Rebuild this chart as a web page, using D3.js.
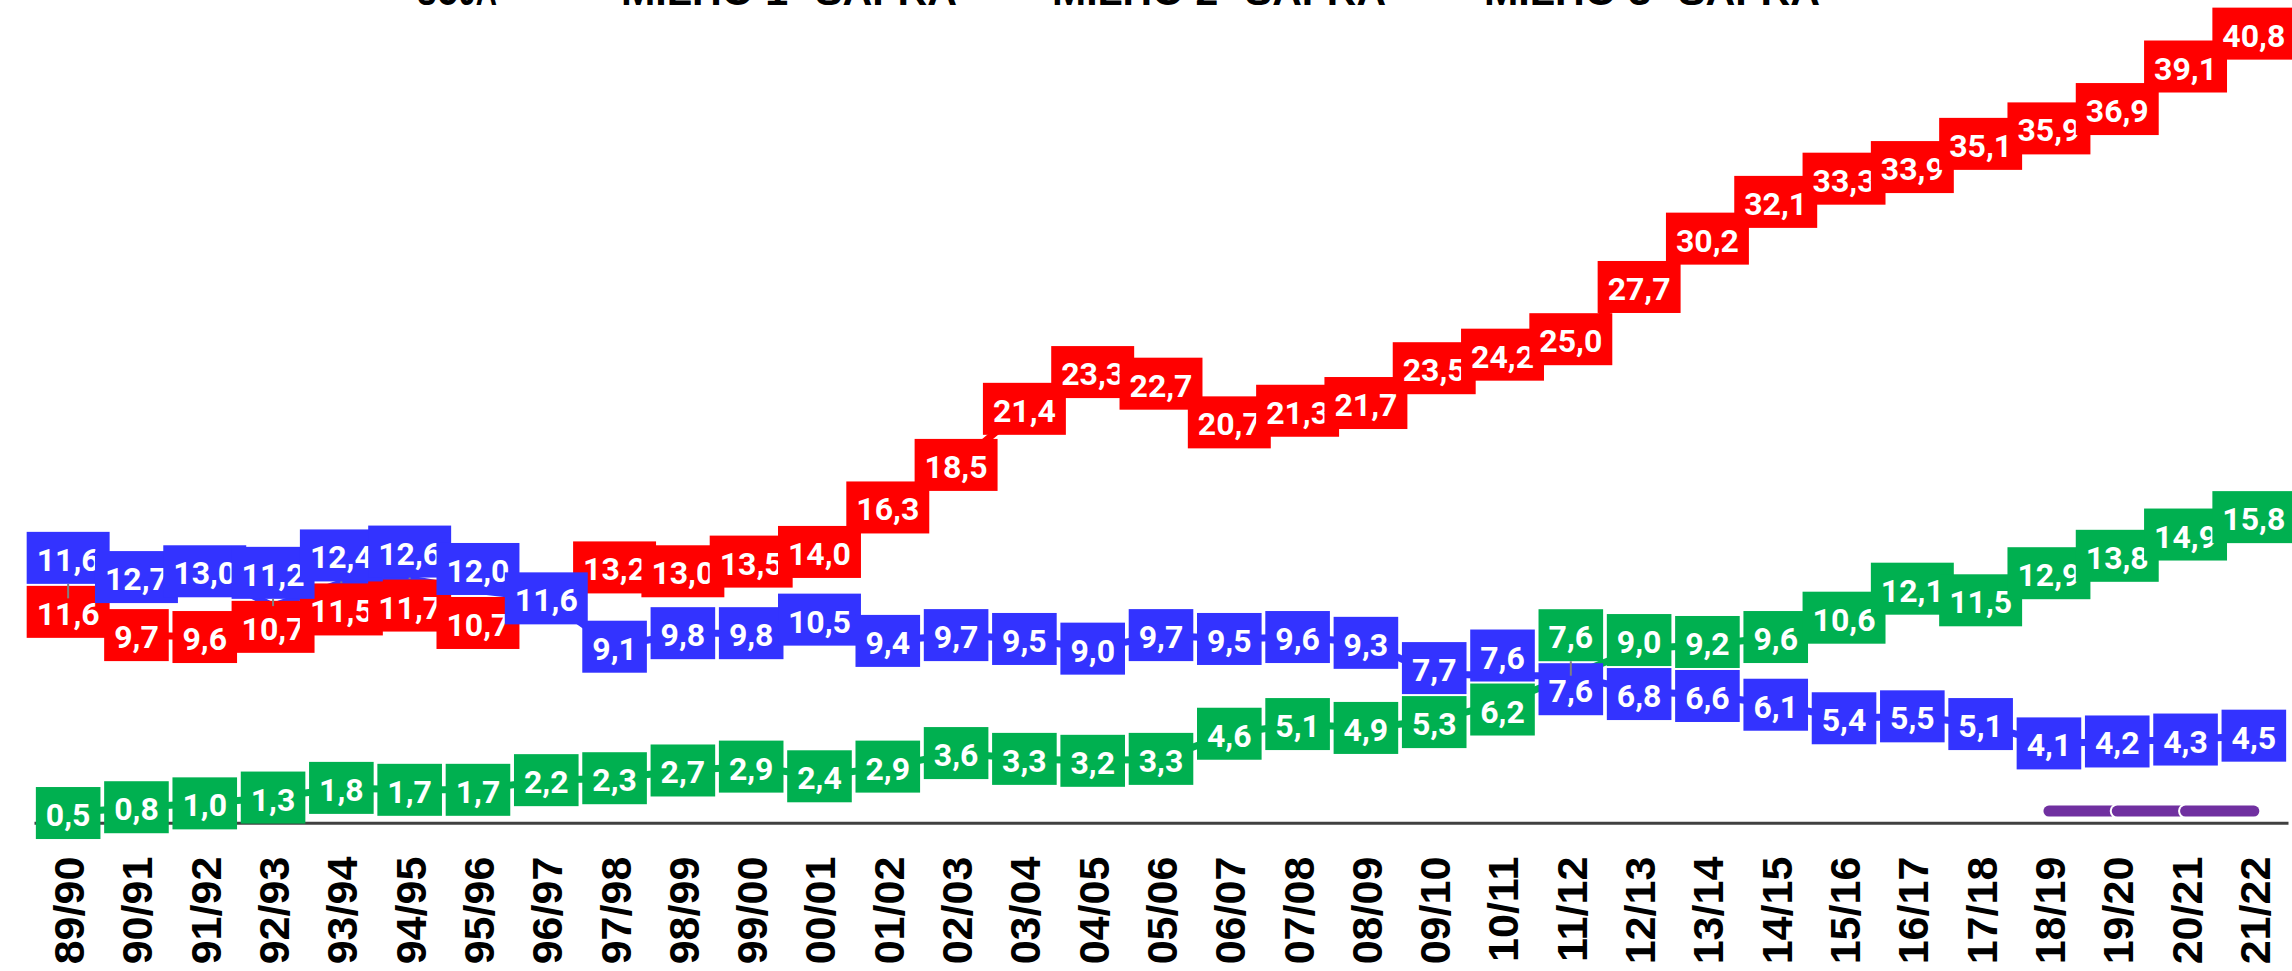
<!DOCTYPE html>
<html><head><meta charset="utf-8">
<script src="https://cdn.jsdelivr.net/npm/d3@7"></script>
<style>html,body{margin:0;padding:0;background:#fff;overflow:hidden}</style>
</head><body><svg id="c" width="2292" height="971"></svg>
<script>
const categories = ["89/90","90/91","91/92","92/93","93/94","94/95","95/96","96/97","97/98","98/99","99/00","00/01","01/02","02/03","03/04","04/05","05/06","06/07","07/08","08/09","09/10","10/11","11/12","12/13","13/14","14/15","15/16","16/17","17/18","18/19","19/20","20/21","21/22"];
const soja   = [11.6,9.7,9.6,10.7,11.5,11.7,10.7,null,13.2,13.0,13.5,14.0,16.3,18.5,21.4,23.3,22.7,20.7,21.3,21.7,23.5,24.2,25.0,27.7,30.2,32.1,33.3,33.9,35.1,35.9,36.9,39.1,40.8];
const milho1 = [11.6,12.7,13.0,11.2,12.4,12.6,12.0,11.6,9.1,9.8,9.8,10.5,9.4,9.7,9.5,9.0,9.7,9.5,9.6,9.3,7.7,7.6,7.6,6.8,6.6,6.1,5.4,5.5,5.1,4.1,4.2,4.3,4.5];
const milho2 = [0.5,0.8,1.0,1.3,1.8,1.7,1.7,2.2,2.3,2.7,2.9,2.4,2.9,3.6,3.3,3.2,3.3,4.6,5.1,4.9,5.3,6.2,7.6,9.0,9.2,9.6,10.6,12.1,11.5,12.9,13.8,14.9,15.8];
const milho3 = [null,null,null,null,null,null,null,null,null,null,null,null,null,null,null,null,null,null,null,null,null,null,null,null,null,null,null,null,null,0.6,0.6,0.6,0.6];
const seriesNames = ["SOJA","MILHO 1ª SAFRA","MILHO 2ª SAFRA","MILHO 3ª SAFRA"];
const colors = ["#FF0000","#3333FF","#00B050","#7030A0"];

const svg = d3.select("#c");
const x = d3.scalePoint().domain(categories).range([34, 2288]).padding(0.5);
const y = d3.scaleLinear().domain([0, 40]).range([822.7, 49.1]);
const fmt = v => d3.format(".1f")(v).replace(".", ",");

// legend (mostly cropped at top edge, as in the reference)
const legX = [417, 621, 1052, 1484], legW = [80, 336, 334, 336];
const leg = svg.append("g");
seriesNames.forEach((n, k) => {
  leg.append("text").attr("x", legX[k]).attr("y", 5)
    .attr("font-family", "'Liberation Sans Narrow', 'Liberation Sans', sans-serif")
    .attr("font-weight", "bold").attr("font-size", 40).attr("fill", "#000")
    .attr("textLength", legW[k]).attr("lengthAdjust", "spacingAndGlyphs").text(n);
});

// axis
const axis = d3.axisBottom(x).tickSize(0).tickSizeOuter(0);
const ag = svg.append("g").attr("transform", "translate(0,822.7)").call(axis);
ag.select(".domain").attr("stroke", "#404040").attr("stroke-width", 3);
ag.selectAll(".tick text")
  .attr("transform", "rotate(-90)")
  .attr("x", -34).attr("y", 0).attr("dy", "0.36em")
  .attr("text-anchor", "end")
  .attr("font-family", "'Liberation Sans', Arial, sans-serif")
  .attr("font-weight", "bold").attr("font-size", 43).attr("fill", "#000");

// lines
const pts = arr => arr.map((v, i) => v == null ? null : [x(categories[i]), y(v)]).filter(p => p);
[soja, milho1, milho2].forEach((arr, s) => {
  svg.append("path").attr("d", d3.line()(pts(arr))).attr("fill", "none")
    .attr("stroke", colors[s]).attr("stroke-width", 7).attr("stroke-linejoin", "round");
});
// milho 3a safra: thick segmented line
const m3 = svg.append("g");
milho3.forEach((v, i) => {
  if (i === 0 || v == null || milho3[i - 1] == null) return;
  const seg = [[x(categories[i - 1]), y(milho3[i - 1])], [x(categories[i]), y(v)]];
  m3.append("path").attr("d", d3.line()(seg)).attr("stroke", "#fff").attr("stroke-width", 15).attr("stroke-linecap", "round").attr("fill", "none");
  m3.append("path").attr("d", d3.line()(seg)).attr("stroke", colors[3]).attr("stroke-width", 11).attr("stroke-linecap", "round").attr("fill", "none");
});

// data labels with simple collision avoidance between series
const FS = 32, PAD = 10, LH = 52, MINSEP = 54;
const meas = svg.append("text").attr("font-family", "Roboto, sans-serif").attr("font-weight", "bold").attr("font-size", FS);
const labels = [];
[soja, milho1, milho2].forEach((arr, s) => arr.forEach((v, i) => {
  if (v == null) return;
  const t = fmt(v);
  meas.text(t);
  const w = meas.node().getComputedTextLength() + 2 * PAD;
  const nb = (arr[i - 1] != null ? arr[i - 1] : v) + (arr[i + 1] != null ? arr[i + 1] : v);
  labels.push({s, i, v, t, w, nb, px: x(categories[i]), py: y(v), cx: x(categories[i]), cy: y(v)});
}));
meas.remove();
for (let it = 0; it < 300; it++) {
  let moved = false;
  for (let a = 0; a < labels.length; a++) for (let b = a + 1; b < labels.length; b++) {
    const A = labels[a], B = labels[b];
    if (A.s === B.s) continue;
    if (Math.abs(A.cx - B.cx) >= (A.w + B.w) / 2 - 18) continue;
    const dy = B.cy - A.cy;
    const need = MINSEP - Math.abs(dy);
    if (need <= 0.01) continue;
    let up, lo;
    if (Math.abs(dy) < 0.01) { if (A.nb >= B.nb) { up = A; lo = B; } else { up = B; lo = A; } }
    else if (dy > 0) { up = A; lo = B; } else { up = B; lo = A; }
    up.cy -= need * 0.75; lo.cy += need * 0.25; moved = true;
  }
  if (!moved) break;
}
const lg = svg.append("g");
[0, 1, 2].forEach(s => {
  labels.filter(l => l.s === s).forEach(l => {
    lg.append("rect").attr("x", l.cx - l.w / 2).attr("y", l.cy - LH / 2).attr("width", l.w).attr("height", LH).attr("fill", colors[s]);
    lg.append("text").attr("x", l.cx).attr("y", l.cy + 13).attr("text-anchor", "middle")
      .attr("font-family", "Roboto, sans-serif").attr("font-weight", "bold").attr("font-size", FS)
      .attr("fill", "#fff").text(l.t);
  });
});
// leader lines from displaced labels back to their points
const clamp = (v, a, b) => Math.max(a, Math.min(b, v));
labels.forEach(l => {
  const inX = Math.abs(l.px - l.cx) <= l.w / 2, inY = Math.abs(l.py - l.cy) <= LH / 2;
  if (inX && inY) return;
  const ex = clamp(l.px, l.cx - l.w / 2, l.cx + l.w / 2), ey = clamp(l.py, l.cy - LH / 2, l.cy + LH / 2);
  lg.append("line").attr("x1", l.px).attr("y1", l.py).attr("x2", ex).attr("y2", ey)
    .attr("stroke", "#808080").attr("stroke-width", 2);
});
</script></body></html>
